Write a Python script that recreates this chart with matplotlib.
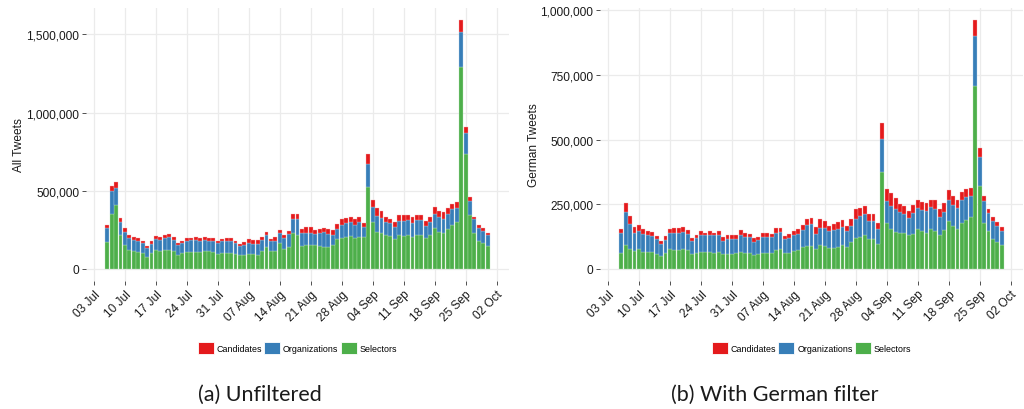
import numpy as np
import pandas as pd
import matplotlib
matplotlib.use("Agg")
import matplotlib.pyplot as plt
import matplotlib.dates as mdates
from matplotlib.ticker import FuncFormatter
from matplotlib.patches import Patch

# daily tweet counts (thousands), 06 Jul - 30 Sep 2017
days = pd.date_range("2017-07-06", "2017-09-30", freq="D")

all_selectors = [172, 353, 409, 217, 153, 121, 111, 109, 102, 77, 102, 117, 113, 117, 121, 113, 89, 102, 109, 106,
                 109, 106, 113, 113, 109, 96, 102, 100, 101, 96, 85, 89, 96, 92, 89, 111, 138, 115, 115, 162,
                 128, 141, 230, 217, 145, 149, 151, 149, 143, 141, 141, 149, 187, 194, 200, 207, 198, 205, 204, 524,
                 300, 238, 228, 213, 209, 192, 217, 211, 215, 200, 215, 215, 194, 217, 258, 234, 228, 253, 279, 296,
                 1290, 736, 343, 230, 179, 164, 147]
all_orgs = [90, 143, 108, 79, 81, 73, 74, 68, 60, 57, 58, 72, 72, 79, 79, 72, 60, 62, 70, 75,
            76, 73, 72, 64, 70, 68, 73, 77, 77, 68, 62, 64, 70, 68, 71, 74, 75, 60, 64, 66,
            68, 78, 89, 102, 81, 79, 77, 70, 85, 93, 78, 68, 66, 85, 90, 93, 83, 97, 62, 147,
            94, 101, 98, 87, 85, 76, 90, 93, 94, 94, 96, 94, 81, 83, 95, 96, 91, 100, 100, 94,
            225, 130, 89, 85, 83, 77, 66]
all_cands = [17, 36, 39, 28, 28, 21, 17, 17, 15, 13, 15, 22, 19, 17, 21, 17, 15, 13, 17, 17,
             17, 15, 17, 19, 17, 13, 14, 17, 17, 15, 13, 17, 21, 21, 21, 19, 21, 14, 21, 21,
             21, 22, 30, 32, 29, 36, 36, 28, 25, 28, 32, 28, 32, 40, 34, 34, 34, 32, 26, 64,
             49, 48, 44, 34, 25, 30, 38, 37, 36, 40, 34, 34, 32, 34, 43, 40, 41, 37, 38, 38,
             75, 41, 28, 19, 15, 17, 17]

de_selectors = [62, 91, 76, 67, 75, 66, 64, 63, 57, 48, 59, 75, 73, 72, 76, 71, 57, 62, 66, 66,
                66, 62, 64, 57, 58, 58, 59, 64, 61, 60, 53, 57, 60, 60, 60, 73, 76, 60, 60, 68,
                73, 84, 89, 89, 75, 93, 86, 81, 81, 84, 93, 84, 104, 118, 121, 131, 114, 113, 96, 373,
                177, 154, 141, 139, 138, 130, 136, 152, 144, 139, 154, 145, 130, 148, 183, 167, 153, 175, 190, 201,
                706, 320, 177, 145, 113, 104, 91]
de_orgs = [77, 130, 98, 72, 72, 69, 67, 64, 57, 48, 53, 63, 66, 67, 67, 65, 51, 58, 63, 63,
           65, 67, 65, 50, 56, 56, 55, 65, 63, 62, 49, 55, 62, 63, 61, 67, 65, 54, 57, 61,
           62, 66, 81, 85, 61, 66, 72, 64, 69, 69, 69, 60, 61, 75, 81, 82, 70, 71, 57, 129,
           85, 90, 89, 81, 75, 68, 80, 81, 82, 83, 84, 86, 69, 72, 83, 79, 82, 89, 88, 82,
           194, 113, 84, 70, 72, 63, 56]
de_cands = [15, 32, 30, 24, 23, 17, 16, 14, 13, 12, 14, 16, 18, 18, 18, 14, 12, 12, 15, 10,
            16, 10, 15, 15, 15, 17, 17, 19, 14, 13, 15, 11, 17, 16, 14, 17, 16, 13, 18, 16,
            17, 18, 23, 23, 25, 33, 28, 22, 24, 27, 26, 21, 27, 37, 32, 31, 29, 29, 22, 60,
            47, 49, 43, 32, 30, 27, 31, 34, 34, 34, 29, 34, 31, 35, 40, 34, 30, 32, 32, 31,
            61, 34, 22, 16, 14, 14, 15]

series_names = ["Candidates", "Organizations", "Selectors"]
RED = "#E41A1C"
BLUE = "#377EB8"
GREEN = "#4DAF4A"

matplotlib.rcParams['font.family'] = ["Liberation Sans", "DejaVu Sans"]

fig = plt.figure(figsize=(10.24, 4.1), dpi=100)
ax_l = fig.add_axes([0.084, 0.312, 0.413, 0.666])
ax_r = fig.add_axes([0.586, 0.312, 0.413, 0.666])

panels = [
    (ax_l, all_selectors, all_orgs, all_cands, "All Tweets", [0, 500000, 1000000, 1500000]),
    (ax_r, de_selectors, de_orgs, de_cands, "German Tweets", [0, 250000, 500000, 750000, 1000000]),
]

for ax, sel, org, cand, ylabel, yticks in panels:
    sel = np.array(sel) * 1000
    org = np.array(org) * 1000
    cand = np.array(cand) * 1000
    ax.bar(days, sel, width=0.88, color=GREEN, edgecolor="#bfe3bd", linewidth=0.25, zorder=2)
    ax.bar(days, org, width=0.88, bottom=sel, color=BLUE, edgecolor="#b8d2ea", linewidth=0.25, zorder=2)
    ax.bar(days, cand, width=0.88, bottom=sel + org, color=RED, edgecolor="#f6b3b4", linewidth=0.25, zorder=2)

    top = (sel + org + cand).max()
    ax.set_ylim(-0.05 * top, 1.05 * top)
    x0 = mdates.date2num(days[0]) - 0.45
    x1 = mdates.date2num(days[-1]) + 0.45
    pad = 0.05 * (x1 - x0)
    ax.set_xlim(x0 - pad, x1 + pad)

    ax.set_yticks(yticks)
    ax.yaxis.set_major_formatter(FuncFormatter(lambda v, p: "{:,.0f}".format(v)))
    ax.xaxis.set_major_locator(mdates.WeekdayLocator(byweekday=mdates.MO))
    ax.xaxis.set_major_formatter(mdates.DateFormatter("%d %b"))
    ax.tick_params(axis="x", labelrotation=45, labelsize=8.6, colors="#333333", length=3, width=0.6, pad=2)
    ax.tick_params(axis="y", labelsize=8.6, colors="#333333", length=3, width=0.6, pad=2)
    for lab in ax.get_xticklabels():
        lab.set_ha("right")
        lab.set_rotation_mode("anchor")
        lab.set_color("#1a1a1a")
    for lab in ax.get_yticklabels():
        lab.set_color("#1a1a1a")

    ax.grid(True, color="#EBEBEB", linewidth=0.9, zorder=0)
    ax.set_axisbelow(True)
    for s in ax.spines.values():
        s.set_visible(False)
    ax.set_ylabel(ylabel, fontsize=8.6, color="#1a1a1a", labelpad=4)

    handles = [Patch(facecolor=c, edgecolor="white", linewidth=0.6) for c in [RED, BLUE, GREEN]]
    ax.legend(handles, series_names, loc="center", bbox_to_anchor=(0.5, -0.245), ncol=3, frameon=False,
              fontsize=6.4, handlelength=1.8, handleheight=1.8, handletextpad=0.3, columnspacing=0.3,
              borderaxespad=0)

ax_l.yaxis.set_label_coords(-0.144, 0.5)
ax_r.yaxis.set_label_coords(-0.141, 0.5)

fig.text(0.254, 0.022, "(a) Unfiltered", ha="center", va="baseline", fontsize=15.5,
         family=["Lato", "DejaVu Sans"], color="#1a1a1a")
fig.text(0.757, 0.022, "(b) With German filter", ha="center", va="baseline", fontsize=15.5,
         family=["Lato", "DejaVu Sans"], color="#1a1a1a")

fig.savefig("out.png", dpi=100)
